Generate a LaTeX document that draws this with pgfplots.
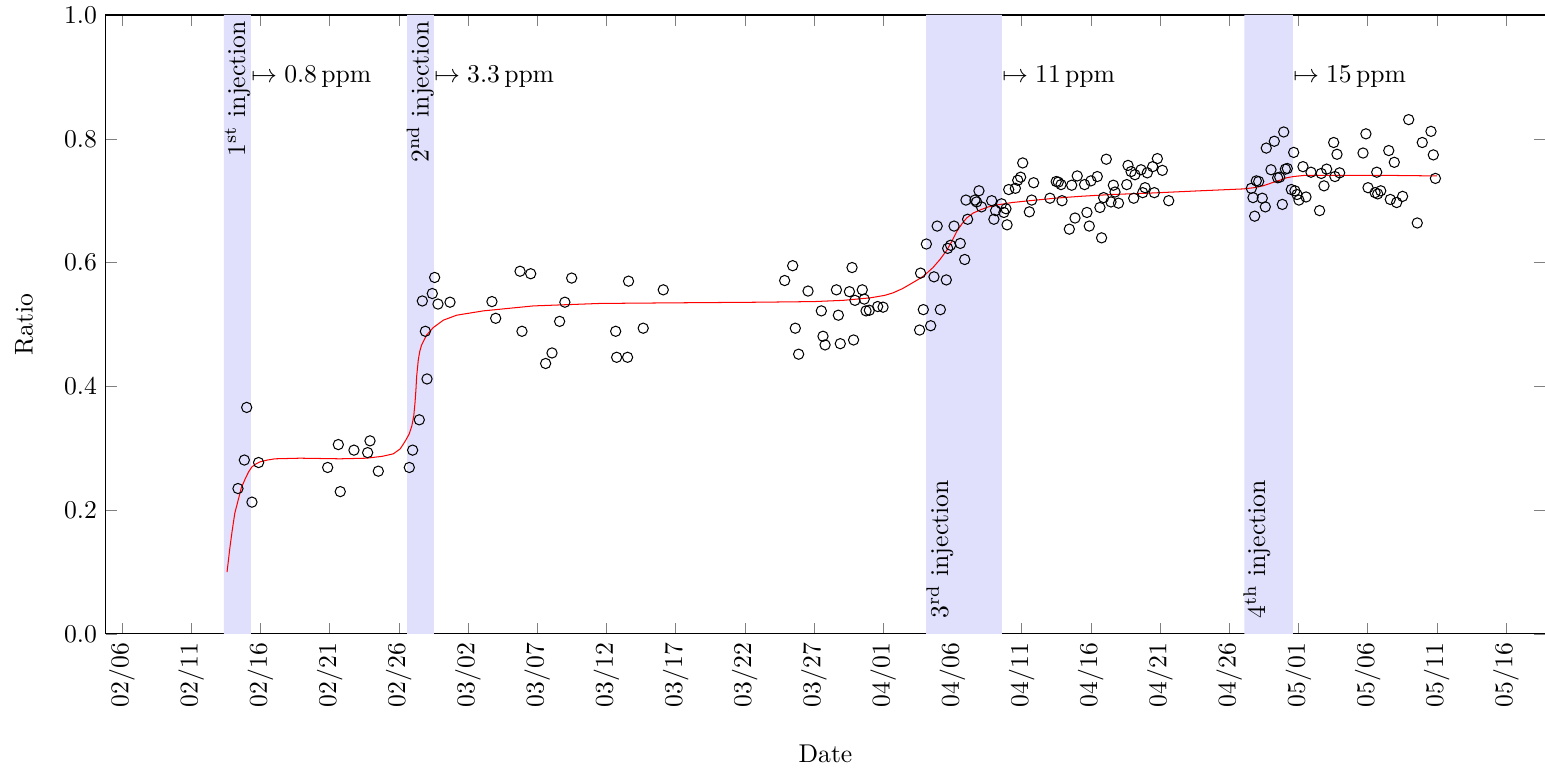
\documentclass[border=0pt]{standalone}
\usepackage{pgfplots}
\usepackage{pgfplotstable}
\pgfplotsset{compat=1.18}
\definecolor{bandblue}{RGB}{224,224,252}
\pgfplotstableread{
x y
9.01 0.366
8.84 0.281
9.87 0.277
8.38 0.235
9.39 0.213
15.63 0.306
16.76 0.297
17.92 0.312
17.75 0.293
14.86 0.269
15.77 0.230
18.52 0.263
20.76 0.269
21.00 0.297
21.48 0.346
22.04 0.412
21.92 0.489
21.70 0.538
22.42 0.550
22.59 0.576
22.83 0.533
23.70 0.536
26.73 0.537
27.00 0.510
28.76 0.586
29.53 0.582
28.90 0.489
30.61 0.437
31.07 0.454
31.62 0.505
32.00 0.536
32.49 0.575
35.67 0.489
35.74 0.447
36.53 0.447
36.60 0.570
37.66 0.494
39.11 0.556
47.88 0.571
48.46 0.595
48.65 0.494
48.89 0.452
49.57 0.554
50.53 0.522
50.65 0.481
50.80 0.467
51.62 0.556
51.76 0.515
51.90 0.469
52.75 0.592
52.56 0.553
52.86 0.475
53.49 0.556
52.96 0.539
53.63 0.541
53.76 0.522
54.00 0.523
54.60 0.529
54.99 0.528
57.70 0.583
57.63 0.491
57.90 0.524
58.43 0.498
58.12 0.630
58.67 0.577
59.13 0.524
59.56 0.572
59.66 0.623
59.87 0.628
60.57 0.631
60.89 0.605
58.90 0.659
60.12 0.659
61.10 0.670
60.98 0.701
61.63 0.701
61.75 0.698
61.92 0.716
62.10 0.690
62.84 0.700
63.00 0.670
63.12 0.684
63.55 0.695
63.72 0.681
63.87 0.687
63.95 0.661
64.07 0.718
64.55 0.720
64.72 0.733
64.93 0.738
65.08 0.761
65.87 0.729
65.73 0.701
65.56 0.682
67.05 0.704
67.50 0.731
67.65 0.730
67.85 0.726
67.92 0.700
68.45 0.654
68.62 0.725
68.86 0.672
69.02 0.740
69.55 0.726
69.72 0.681
69.89 0.659
70.01 0.732
70.47 0.739
70.66 0.689
70.78 0.640
71.12 0.767
70.93 0.705
71.46 0.698
71.63 0.725
71.75 0.714
72.00 0.696
72.60 0.726
72.69 0.757
72.91 0.747
73.10 0.704
73.19 0.742
73.63 0.750
73.75 0.713
73.92 0.721
74.08 0.745
74.47 0.755
74.59 0.713
74.81 0.768
75.17 0.749
75.63 0.700
81.60 0.720
81.72 0.705
81.84 0.675
81.96 0.732
82.13 0.731
82.39 0.704
82.61 0.690
82.68 0.785
83.02 0.750
83.26 0.796
83.50 0.737
83.65 0.738
83.84 0.694
83.94 0.811
84.06 0.751
84.20 0.752
84.49 0.718
84.66 0.778
84.75 0.716
84.90 0.710
85.04 0.701
85.55 0.706
85.33 0.755
85.91 0.746
86.53 0.684
86.65 0.744
86.85 0.724
87.04 0.751
87.55 0.794
87.79 0.775
87.64 0.739
87.98 0.745
89.67 0.777
89.88 0.808
90.03 0.721
90.66 0.746
90.54 0.713
90.73 0.711
90.95 0.716
91.53 0.781
91.64 0.702
91.93 0.762
92.10 0.697
92.53 0.707
92.97 0.831
93.59 0.664
93.95 0.794
94.58 0.812
94.75 0.774
94.90 0.736
}\points
\pgfplotstableread{
x y
7.59 0.100
7.80 0.140
7.95 0.165
8.15 0.195
8.38 0.215
8.62 0.236
8.89 0.250
9.15 0.262
9.39 0.270
9.70 0.275
9.97 0.278
10.50 0.281
11.05 0.283
12.86 0.284
15.75 0.283
17.68 0.284
18.80 0.287
19.60 0.291
20.10 0.299
20.45 0.311
20.75 0.323
20.93 0.335
21.08 0.352
21.17 0.373
21.24 0.395
21.29 0.416
21.41 0.443
21.52 0.457
21.65 0.467
22.01 0.483
22.49 0.495
23.22 0.507
24.18 0.515
26.11 0.522
29.72 0.530
34.54 0.534
40.00 0.535
46.10 0.536
50.00 0.537
52.10 0.539
54.05 0.543
55.10 0.547
55.70 0.551
56.40 0.558
56.94 0.565
57.40 0.571
57.90 0.578
58.60 0.592
59.10 0.605
59.60 0.620
60.00 0.636
60.31 0.650
60.70 0.663
61.03 0.672
61.50 0.680
62.00 0.685
62.60 0.690
63.20 0.693
64.30 0.697
65.60 0.700
67.40 0.704
69.20 0.707
71.50 0.710
74.00 0.712
77.90 0.716
81.00 0.719
81.80 0.721
82.45 0.724
83.10 0.729
83.65 0.733
84.15 0.737
84.63 0.739
85.50 0.741
87.28 0.741
91.00 0.741
95.00 0.740
}\curve
\begin{document}
\begin{tikzpicture}
\begin{axis}[
  name=ax,
  scale only axis,
  width=561pt, height=241.3pt,
  xmin=-1.16, xmax=102.82,
  ymin=0, ymax=1,
  xtick={0,5,...,100},
  xticklabels={02/06,02/11,02/16,02/21,02/26,03/02,03/07,03/12,03/17,03/22,03/27,04/01,04/06,04/11,04/16,04/21,04/26,05/01,05/06,05/11,05/16},
  xticklabel style={rotate=90, anchor=east},
  ytick={0,0.2,0.4,0.6,0.8,1.0},
  yticklabel style={/pgf/number format/fixed, /pgf/number format/precision=1, /pgf/number format/fixed zerofill},
  xlabel={Date},
  ylabel={Ratio},
  xlabel style={yshift=-7.8pt},
  ylabel style={yshift=5.2pt},
  clip=false,
]
\addplot[fill=bandblue, draw=none, forget plot] coordinates {(7.37,0) (9.32,0) (9.32,1) (7.37,1)} \closedcycle;
\addplot[fill=bandblue, draw=none, forget plot] coordinates {(20.6,0) (22.54,0) (22.54,1) (20.6,1)} \closedcycle;
\addplot[fill=bandblue, draw=none, forget plot] coordinates {(58.1,0) (63.58,0) (63.58,1) (58.1,1)} \closedcycle;
\addplot[fill=bandblue, draw=none, forget plot] coordinates {(81.1,0) (84.6,0) (84.6,1) (81.1,1)} \closedcycle;
\addplot[only marks, mark=o, mark size=2pt, black] table[x=x,y=y] {\points};
\addplot[red, no marks] table[x=x,y=y] {\curve};
\node[rotate=90, anchor=east, inner sep=1pt] at (axis cs:8.35,0.995) {$1^{\mathrm{st}}$ injection};
\node[rotate=90, anchor=east, inner sep=1pt] at (axis cs:21.55,0.995) {$2^{\mathrm{nd}}$ injection};
\node[rotate=90, anchor=west, inner sep=1pt] at (axis cs:59.1,0.02) {$3^{\mathrm{rd}}$ injection};
\node[rotate=90, anchor=west, inner sep=1pt] at (axis cs:82.0,0.02) {$4^{\mathrm{th}}$ injection};
\node[anchor=west, inner sep=0pt] at (axis cs:9.32,0.9) {$\mapsto 0.8\,\mathrm{ppm}$};
\node[anchor=west, inner sep=0pt] at (axis cs:22.54,0.9) {$\mapsto 3.3\,\mathrm{ppm}$};
\node[anchor=west, inner sep=0pt] at (axis cs:63.58,0.9) {$\mapsto 11\,\mathrm{ppm}$};
\node[anchor=west, inner sep=0pt] at (axis cs:84.6,0.9) {$\mapsto 15\,\mathrm{ppm}$};
\end{axis}
\pgfresetboundingbox
\path ([xshift=-41.3pt,yshift=-52.2pt]ax.south west) rectangle ([yshift=5.85pt]ax.north east);
\end{tikzpicture}
\end{document}
